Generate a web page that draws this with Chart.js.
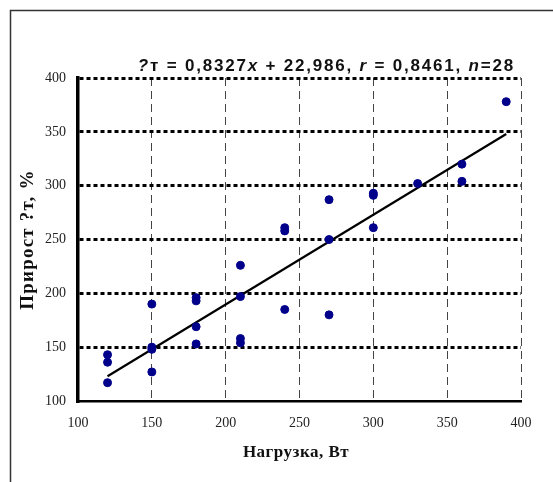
<!DOCTYPE html>
<html lang="ru">
<head>
<meta charset="UTF-8">
<title>Прирост ?т – Нагрузка</title>
<script src="https://cdn.jsdelivr.net/npm/chart.js"></script>
<style>
  html, body { margin: 0; padding: 0; background: #fff; }
  #wrap { width: 553px; height: 482px; position: relative; }
</style>
</head>
<body>
<div id="wrap"><canvas id="chart" width="553" height="482"></canvas></div>
<script>
// Нагрузка, Вт
const loadW = [
  120, 120, 120,
  150, 150, 150, 150,
  180, 180, 180, 180,
  210, 210, 210, 210,
  240, 240, 240,
  270, 270, 270,
  300, 300, 300,
  330,
  360, 360,
  390
];
// Прирост, %
const gainPct = [
  143, 136, 117,
  190, 150, 148, 127,
  196, 193, 169, 153,
  226, 197, 158, 154,
  261, 258, 185,
  287, 250, 180,
  293, 291, 261,
  302,
  320, 304,
  378
];
// линия тренда (концы, как на рисунке)
const trendX = [120, 390];
const trendY = [123, 348];

const xTicks = [100, 150, 200, 250, 300, 350, 400];
const yTicks = [100, 150, 200, 250, 300, 350, 400];

const titleParts = [
  { t: '?', it: true }, { t: 'т = 0,8327', it: false }, { t: 'x', it: true },
  { t: ' + 22,986, ', it: false }, { t: 'r', it: true }, { t: ' = 0,8461, ', it: false },
  { t: 'n', it: true }, { t: '=28', it: false }
];

const decor = {
  id: 'decor',
  beforeDraw(chart) {
    const ctx = chart.ctx;
    ctx.save();
    ctx.strokeStyle = '#333';
    ctx.lineWidth = 1.5;
    ctx.beginPath();
    ctx.moveTo(553, 10.5); ctx.lineTo(10.5, 10.5); ctx.lineTo(10.5, 482);
    ctx.stroke();
    ctx.restore();
  },
  afterDraw(chart) {
    const ctx = chart.ctx, a = chart.chartArea;
    ctx.save();
    ctx.fillStyle = '#111';
    // title
    ctx.letterSpacing = '1.8px';
    let w = 0;
    titleParts.forEach(p => {
      ctx.font = (p.it ? 'italic ' : '') + 'bold 17px "Liberation Sans", Arial, sans-serif';
      w += ctx.measureText(p.t).width;
    });
    let x = a.right - 6 - w;
    ctx.textBaseline = 'alphabetic';
    ctx.textAlign = 'left';
    titleParts.forEach(p => {
      ctx.font = (p.it ? 'italic ' : '') + 'bold 17px "Liberation Sans", Arial, sans-serif';
      ctx.fillText(p.t, x, 71);
      x += ctx.measureText(p.t).width;
    });
    // axis titles
    ctx.letterSpacing = '0.5px';
    ctx.font = 'bold 17px "Liberation Serif", "Times New Roman", serif';
    ctx.textAlign = 'center';
    ctx.textBaseline = 'middle';
    ctx.fillText('Нагрузка, Вт', 296, 453);
    ctx.letterSpacing = '1.2px';
    ctx.font = 'bold 19px "Liberation Serif", "Times New Roman", serif';
    ctx.translate(28, (a.top + a.bottom) / 2);
    ctx.rotate(-Math.PI / 2);
    ctx.fillText('Прирост ?т, %', 0, 0);
    ctx.restore();
  }
};

new Chart(document.getElementById('chart'), {
  type: 'scatter',
  data: {
    datasets: [
      {
        label: 'Прирост',
        data: loadW.map((v, i) => ({ x: v, y: gainPct[i] })),
        backgroundColor: '#00008b',
        borderColor: '#00008b',
        borderWidth: 1,
        pointRadius: 4,
        pointHoverRadius: 4
      },
      {
        label: 'Тренд',
        type: 'line',
        data: trendX.map((v, i) => ({ x: v, y: trendY[i] })),
        borderColor: '#000',
        borderWidth: 2.2,
        pointRadius: 0,
        fill: false
      }
    ]
  },
  options: {
    responsive: false,
    animation: false,
    devicePixelRatio: 1,
    layout: { padding: { top: 78, right: 32, left: 0, bottom: 0 } },
    plugins: { legend: { display: false }, tooltip: { enabled: false }, title: { display: false } },
    scales: {
      x: {
        type: 'linear', min: 100, max: 400,
        afterFit(s) { s.height = 81; },
        afterBuildTicks(s) { s.ticks = xTicks.map(v => ({ value: v })); },
        ticks: {
          padding: 14,
          color: '#222',
          font: { family: '"Liberation Serif", "Times New Roman", serif', size: 14 }
        },
        grid: {
          drawTicks: false,
          color: c => c.tick && c.tick.value === 100 ? 'rgba(0,0,0,0)' : '#444',
          lineWidth: 1
        },
        border: { display: true, color: '#000', width: 2.5, dash: [8, 5] }
      },
      y: {
        type: 'linear', min: 100, max: 400,
        afterFit(s) { s.width = 78; },
        afterBuildTicks(s) { s.ticks = yTicks.map(v => ({ value: v })); },
        ticks: {
          padding: 12,
          color: '#222',
          font: { family: '"Liberation Serif", "Times New Roman", serif', size: 14 }
        },
        grid: {
          drawTicks: false,
          color: c => c.tick && c.tick.value === 100 ? 'rgba(0,0,0,0)' : '#000',
          lineWidth: 3
        },
        border: { display: true, color: '#000', width: 3.5, dash: [4, 3] }
      }
    }
  },
  plugins: [decor]
});
</script>
</body>
</html>
